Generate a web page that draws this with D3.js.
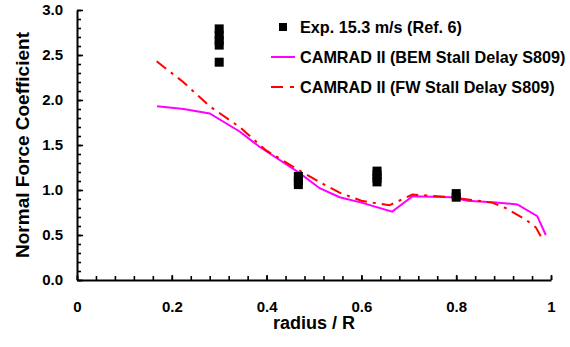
<!DOCTYPE html>
<html>
<head>
<meta charset="utf-8">
<script src="https://d3js.org/d3.v7.min.js"></script>
<style>
  body { margin: 0; background: #fff; }
  svg text { font-family: "Liberation Sans", Arial, sans-serif; font-weight: bold; fill: #000; }
</style>
</head>
<body>
<div id="chart"></div>
<script>
// experiment (Ref. 6), several samples per station
const expX = [0.30, 0.30, 0.30, 0.30, 0.30, 0.467, 0.467, 0.467, 0.633, 0.633, 0.633, 0.633, 0.80, 0.80];
const expY = [2.79, 2.72, 2.66, 2.61, 2.42, 1.15, 1.10, 1.06, 1.21, 1.17, 1.13, 1.09, 0.96, 0.92];

// CAMRAD II, BEM stall delay
const bemX = [0.169, 0.225, 0.28, 0.343, 0.385, 0.469, 0.512, 0.554, 0.60, 0.665, 0.708, 0.789, 0.824, 0.884, 0.929, 0.971, 0.989];
const bemY = [1.93, 1.90, 1.85, 1.65, 1.48, 1.19, 1.02, 0.92, 0.86, 0.76, 0.93, 0.92, 0.88, 0.86, 0.84, 0.71, 0.50];

// CAMRAD II, FW stall delay
const fwX = [0.168, 0.224, 0.28, 0.343, 0.399, 0.462, 0.518, 0.554, 0.60, 0.659, 0.708, 0.789, 0.876, 0.904, 0.947, 0.968, 0.983];
const fwY = [2.43, 2.20, 1.93, 1.70, 1.44, 1.24, 1.07, 0.97, 0.88, 0.83, 0.95, 0.92, 0.86, 0.80, 0.67, 0.585, 0.44];

const legendLabels = ["Exp. 15.3 m/s (Ref. 6)", "CAMRAD II (BEM Stall Delay S809)", "CAMRAD II (FW Stall Delay S809)"];
const xMajor = [0, 0.2, 0.4, 0.6, 0.8, 1];
const yMajor = [0, 0.5, 1.0, 1.5, 2.0, 2.5, 3.0];

const width = 570, height = 347;
const margins = {l: 77, r: 19, t: 10, b: 67};

const svg = d3.select("#chart").append("svg")
    .attr("width", width)
    .attr("height", height);

const x = d3.scaleLinear().domain([0, 1]).range([margins.l, width - margins.r]);
const y = d3.scaleLinear().domain([0, 3]).range([height - margins.b, margins.t]);

// minor ticks
svg.append("g")
    .attr("transform", `translate(0,${y(0)})`)
    .call(d3.axisBottom(x).tickValues(d3.range(0, 1.001, 0.04)).tickSize(-4).tickFormat(""))
    .call(g => g.select(".domain").remove());
svg.append("g")
    .attr("transform", `translate(${x(0)},0)`)
    .call(d3.axisLeft(y).tickValues(d3.range(0, 3.001, 0.1)).tickSize(-4).tickFormat(""))
    .call(g => g.select(".domain").remove());

// major axes
const xAxis = svg.append("g")
    .attr("transform", `translate(0,${y(0)})`)
    .call(d3.axisBottom(x).tickValues(xMajor).tickSize(-5).tickPadding(21).tickFormat(d3.format("")).tickSizeOuter(0));
const yAxis = svg.append("g")
    .attr("transform", `translate(${x(0)},0)`)
    .call(d3.axisLeft(y).tickValues(yMajor).tickSize(-6).tickPadding(14).tickFormat(d3.format(".1f")).tickSizeOuter(0));

[xAxis, yAxis].forEach(g => {
    g.select(".domain").attr("stroke", "#000").attr("stroke-width", 2);
    g.selectAll("text").attr("font-size", 15).attr("font-family", null).attr("fill", "#000");
});
svg.selectAll(".tick line").attr("stroke", "#000").attr("stroke-width", 1.6);

// axis titles
svg.append("text")
    .attr("x", (x(0) + x(1)) / 2)
    .attr("y", 329)
    .attr("text-anchor", "middle")
    .attr("font-size", 18)
    .text("radius / R");
svg.append("text")
    .attr("transform", "rotate(-90)")
    .attr("x", -145)
    .attr("y", 29)
    .attr("text-anchor", "middle")
    .attr("font-size", 19)
    .text("Normal Force Coefficient");

// model lines
const line = d3.line().x(d => x(d[0])).y(d => y(d[1]));
svg.append("path")
    .datum(d3.zip(bemX, bemY))
    .attr("d", line)
    .attr("fill", "none")
    .attr("stroke", "#ff00ff")
    .attr("stroke-width", 2);
svg.append("path")
    .datum(d3.zip(fwX, fwY))
    .attr("d", line)
    .attr("fill", "none")
    .attr("stroke", "#ff0000")
    .attr("stroke-width", 2)
    .attr("stroke-dasharray", "12,6,3,6");

// experiment squares
const sq = 9;
svg.selectAll(".exp")
    .data(d3.zip(expX, expY))
    .enter().append("rect")
    .attr("class", "exp")
    .attr("x", d => x(d[0]) - sq / 2)
    .attr("y", d => y(d[1]) - sq / 2)
    .attr("width", sq)
    .attr("height", sq)
    .attr("fill", "#000");

// legend
const leg = svg.append("g");
const rows = [27, 57, 87];
leg.append("rect").attr("x", 279).attr("y", rows[0] - 4).attr("width", 8).attr("height", 8).attr("fill", "#000");
leg.append("line").attr("x1", 271).attr("x2", 295).attr("y1", rows[1]).attr("y2", rows[1])
    .attr("stroke", "#ff00ff").attr("stroke-width", 2);
leg.append("line").attr("x1", 271).attr("x2", 295).attr("y1", rows[2]).attr("y2", rows[2])
    .attr("stroke", "#ff0000").attr("stroke-width", 2).attr("stroke-dasharray", "12,7,4,7");
legendLabels.forEach((t, i) => {
    leg.append("text")
        .attr("x", 300)
        .attr("y", rows[i])
        .attr("dy", "0.35em")
        .attr("font-size", 16.2)
        .text(t);
});
</script>
</body>
</html>
